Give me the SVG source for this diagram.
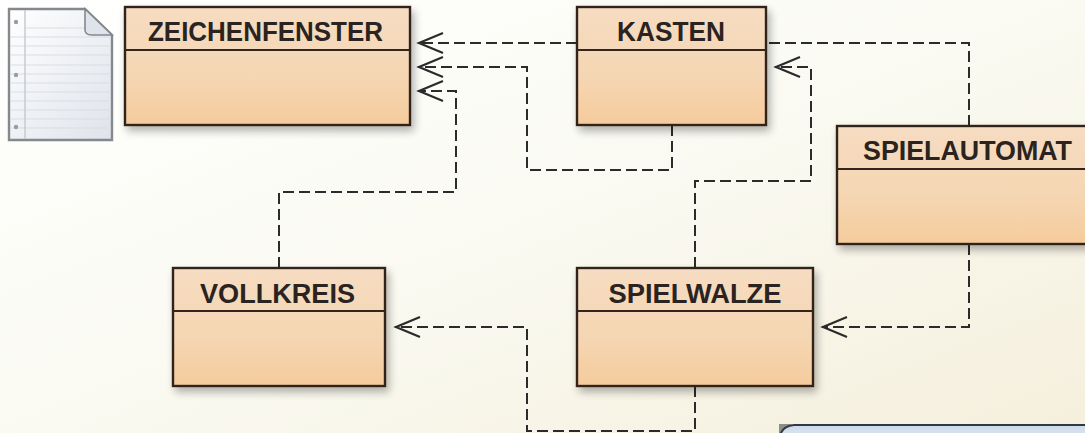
<svg xmlns="http://www.w3.org/2000/svg" width="1085" height="433" viewBox="0 0 1085 433">
<defs>
<linearGradient id="bg" x1="0" y1="0" x2="1" y2="1"><stop offset="0" stop-color="#ffffff"/><stop offset="0.5" stop-color="#fafaf2"/><stop offset="1" stop-color="#f5efdc"/></linearGradient>
<linearGradient id="box" x1="0" y1="0" x2="0" y2="1"><stop offset="0" stop-color="#f6dcc2"/><stop offset="0.6" stop-color="#f5d6b2"/><stop offset="1" stop-color="#f5cb9c"/></linearGradient>
<linearGradient id="page" x1="0" y1="0" x2="1" y2="1"><stop offset="0" stop-color="#ffffff"/><stop offset="1" stop-color="#dfe3ea"/></linearGradient>
<linearGradient id="note" x1="0" y1="0" x2="0" y2="1"><stop offset="0" stop-color="#ccd9ea"/><stop offset="1" stop-color="#e2e9f2"/></linearGradient>
<filter id="sh" x="-10%" y="-10%" width="125%" height="125%"><feGaussianBlur in="SourceAlpha" stdDeviation="4"/><feOffset dx="3" dy="5"/><feComponentTransfer><feFuncA type="linear" slope="0.3"/></feComponentTransfer><feMerge><feMergeNode/><feMergeNode in="SourceGraphic"/></feMerge></filter>
<marker id="arr" markerUnits="userSpaceOnUse" markerWidth="30" markerHeight="30" refX="26" refY="14" orient="auto"><path d="M1 4 L25 14 L1 24" fill="none" stroke="#2b2b2b" stroke-width="2.2"/></marker>
</defs>
<style>
.b{fill:url(#box);stroke:#33241c;stroke-width:2.4;filter:url(#sh)}
.d{stroke:#33241c;stroke-width:2.2;fill:none}
.t{font-family:"Liberation Sans",Arial,sans-serif;font-weight:bold;font-size:27px;fill:#2a2320;text-anchor:middle}
.c{fill:none;stroke:#2b2b2b;stroke-width:2;stroke-dasharray:11 5;marker-end:url(#arr)}
.l{stroke:#d9dde4;stroke-width:1}
</style>
<rect width="1085" height="433" fill="url(#bg)"/>
<g id="document">
<path d="M9 9 H85 L112 35 V140 H9 Z" fill="url(#page)" stroke="#85888c" stroke-width="2.4"/>
<path d="M85 9 V28 Q84 35 92 35 H112 Z" fill="#dfe3ec" stroke="#85888c" stroke-width="1.6"/>
<path class="l" d="M25 28 H84 M10 37 H111 M10 46 H111 M10 55 H111 M10 65 H111 M10 74 H111 M10 83 H111 M10 92 H111 M10 101 H111 M10 110 H111 M10 119 H111 M10 128 H111"/>
<path d="M25 10 V139" stroke="#c3c8d0" stroke-width="1.4"/>
<circle cx="16" cy="22" r="2.2" fill="#9a9ca0"/><circle cx="16" cy="75" r="2.2" fill="#9a9ca0"/><circle cx="16" cy="127" r="2.2" fill="#9a9ca0"/>
</g>
<g id="connectors">
<path class="c" d="M577 43 H418"/>
<path class="c" d="M672 125 V170 H527 V67 H418"/>
<path class="c" d="M279 268 V192 H456 V91 H418"/>
<path class="c" d="M695 268 V181 H811 V67 H775"/>
<path class="c" d="M969 126 V43 H768" style="marker-end:none"/>
<path class="c" d="M969 244 V327 H822"/>
<path class="c" d="M695 386 V431 H527 V327 H395"/>
</g>
<g id="zeichenfenster"><rect class="b" x="125" y="7" width="285" height="118"/><path class="d" d="M125 50 H410"/><text class="t" x="265.5" y="41" textLength="235" lengthAdjust="spacingAndGlyphs">ZEICHENFENSTER</text></g>
<g id="kasten"><rect class="b" x="577" y="7" width="189" height="118"/><path class="d" d="M577 50 H766"/><text class="t" x="671" y="41" textLength="108" lengthAdjust="spacingAndGlyphs">KASTEN</text></g>
<g id="spielautomat"><rect class="b" x="837" y="126" width="260" height="118"/><path class="d" d="M837 169 H1085"/><text class="t" x="967.5" y="160" textLength="209" lengthAdjust="spacingAndGlyphs">SPIELAUTOMAT</text></g>
<g id="vollkreis"><rect class="b" x="173" y="268" width="212" height="118"/><path class="d" d="M173 311 H385"/><text class="t" x="277.5" y="303" textLength="155" lengthAdjust="spacingAndGlyphs">VOLLKREIS</text></g>
<g id="spielwalze"><rect class="b" x="577" y="268" width="236" height="118"/><path class="d" d="M577 311 H813"/><text class="t" x="695" y="303" textLength="173" lengthAdjust="spacingAndGlyphs">SPIELWALZE</text></g>
<g id="note"><path d="M779 424 H792 L779 437 Z" fill="#8e8e88"/><path d="M780 440 V436 Q782 426 794 425 H1095 V440 Z" fill="url(#note)"/><path d="M780 436 Q782 426 794 425 H1095" fill="none" stroke="#2f3a44" stroke-width="2"/></g>
</svg>
